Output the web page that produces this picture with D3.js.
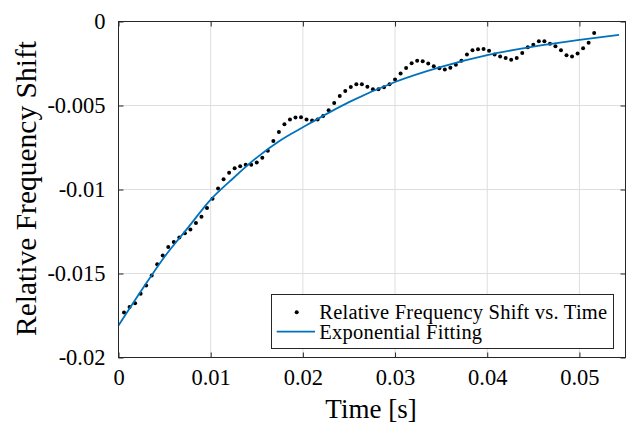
<!DOCTYPE html>
<html><head><meta charset="utf-8">
<script src="https://cdn.jsdelivr.net/npm/d3@7"></script>
<style>html,body{margin:0;padding:0;background:#fff;}svg{display:block;}</style>
</head><body>
<svg id="chart" width="630" height="426"></svg>
<script>
const timeS = [0.0006,0.0012,0.0018,0.0024,0.0030,0.0036,0.0042,0.0048,0.0054,0.0060,
0.0066,0.0072,0.0078,0.0084,0.0090,0.0096,0.0102,0.0108,0.0114,0.0120,
0.0126,0.0132,0.0138,0.0144,0.0150,0.0156,0.0162,0.0168,0.0174,0.0180,
0.0186,0.0192,0.0198,0.0204,0.0210,0.0216,0.0222,0.0228,0.0234,0.0240,
0.0246,0.0252,0.0258,0.0264,0.0270,0.0276,0.0282,0.0288,0.0294,0.0300,
0.0306,0.0312,0.0318,0.0324,0.0330,0.0336,0.0342,0.0348,0.0354,0.0360,
0.0366,0.0372,0.0378,0.0384,0.0390,0.0396,0.0402,0.0408,0.0414,0.0420,
0.0426,0.0432,0.0438,0.0444,0.0450,0.0456,0.0462,0.0468,0.0474,0.0480,
0.0486,0.0492,0.0498,0.0504,0.0510,0.0516];
const freqShift = [-0.01732,-0.01700,-0.01677,-0.01620,-0.01571,-0.01512,-0.01445,-0.01393,-0.01342,-0.01312,
-0.01286,-0.01260,-0.01238,-0.01200,-0.01162,-0.01110,-0.01055,-0.00994,-0.00939,-0.00901,
-0.00873,-0.00861,-0.00853,-0.00853,-0.00839,-0.00811,-0.00769,-0.00712,-0.00658,-0.00612,
-0.00584,-0.00571,-0.00570,-0.00583,-0.00590,-0.00584,-0.00562,-0.00529,-0.00485,-0.00444,
-0.00413,-0.00390,-0.00374,-0.00374,-0.00388,-0.00403,-0.00404,-0.00392,-0.00374,-0.00345,
-0.00310,-0.00277,-0.00249,-0.00234,-0.00237,-0.00250,-0.00267,-0.00278,-0.00285,-0.00275,
-0.00258,-0.00233,-0.00196,-0.00171,-0.00165,-0.00163,-0.00174,-0.00196,-0.00208,-0.00218,
-0.00227,-0.00217,-0.00187,-0.00153,-0.00139,-0.00117,-0.00117,-0.00133,-0.00147,-0.00171,
-0.00201,-0.00209,-0.00191,-0.00159,-0.00126,-0.00068];
const fitTime = [0,0.0025,0.005,0.0075,0.01,0.0125,0.015,0.0175,0.02,0.025,0.03,0.035,0.04,0.045,0.05,0.0543];
const fitValue = [-0.0181,-0.0160,-0.0140,-0.0123,-0.0106,-0.0093,-0.0081,-0.0071,-0.0063,-0.0048,-0.0036,-0.0027,-0.0020,-0.0015,-0.0011,-0.0008];
const xTicks = [0,0.01,0.02,0.03,0.04,0.05];
const xTickLabels = ["0","0.01","0.02","0.03","0.04","0.05"];
const yTicks = [0,-0.005,-0.01,-0.015,-0.02];
const yTickLabels = ["0","-0.005","-0.01","-0.015","-0.02"];
const legendLabels = ["Relative Frequency Shift vs. Time","Exponential Fitting"];
const xLabel = "Time [s]";
const yLabel = "Relative Frequency Shift";

const L = 118.5, R = 625.5, T = 21.5, B = 357.5;
const svg = d3.select("#chart");
const FONT = "'Liberation Serif', 'Times New Roman', serif";
const axisColor = "#262626";
const x = d3.scaleLinear().domain([0, 0.055]).range([L, R]);
const y = d3.scaleLinear().domain([-0.02, 0]).range([B, T]);

// grid
const grid = svg.append("g");
grid.selectAll("line.gx").data(xTicks).join("line")
  .attr("x1", d => x(d)).attr("x2", d => x(d)).attr("y1", T).attr("y2", B)
  .attr("stroke", "#dedede").attr("stroke-width", 1);
grid.selectAll("line.gy").data(yTicks).join("line")
  .attr("x1", L).attr("x2", R).attr("y1", d => y(d)).attr("y2", d => y(d))
  .attr("stroke", "#dedede").attr("stroke-width", 1);

// data
const pts = timeS.map((t, i) => ({t, v: freqShift[i]}));
svg.append("g").selectAll("circle").data(pts).join("circle")
  .attr("cx", d => x(d.t)).attr("cy", d => y(d.v)).attr("r", 2).attr("fill", "#000");

const fit = fitTime.map((t, i) => ({t, v: fitValue[i]}));
svg.append("path").datum(fit)
  .attr("d", d3.line().x(d => x(d.t)).y(d => y(d.v)).curve(d3.curveMonotoneX))
  .attr("fill", "none").attr("stroke", "#0072BD").attr("stroke-width", 1.8);

// axes
function styleAxis(g) {
  g.attr("font-family", FONT);
  g.select(".domain").remove();
  g.selectAll(".tick line").attr("stroke", axisColor);
  g.selectAll(".tick text").attr("fill", "#000").attr("font-family", FONT).attr("font-size", 22.5);
}
svg.append("g").attr("transform", `translate(0,${B})`)
  .call(d3.axisBottom(x).tickValues(xTicks).tickFormat((d, i) => xTickLabels[i]).tickSizeInner(-5).tickSizeOuter(0).tickPadding(12))
  .call(styleAxis);
svg.append("g").attr("transform", `translate(0,${T})`)
  .call(d3.axisTop(x).tickValues(xTicks).tickFormat("").tickSizeInner(-5).tickSizeOuter(0))
  .call(styleAxis);
svg.append("g").attr("transform", `translate(${L},0)`)
  .call(d3.axisLeft(y).tickValues(yTicks).tickFormat((d, i) => yTickLabels[i]).tickSizeInner(-5).tickSizeOuter(0).tickPadding(13))
  .call(styleAxis);
svg.append("g").attr("transform", `translate(${R},0)`)
  .call(d3.axisRight(y).tickValues(yTicks).tickFormat("").tickSizeInner(-5).tickSizeOuter(0))
  .call(styleAxis);

svg.append("rect").attr("x", L).attr("y", T).attr("width", R - L).attr("height", B - T)
  .attr("fill", "none").attr("stroke", axisColor).attr("stroke-width", 1);

// labels
svg.append("text").attr("x", (L + R) / 2 - 1).attr("y", 418).attr("text-anchor", "middle")
  .attr("font-family", FONT).attr("font-size", 27).attr("fill", "#000").text(xLabel);
svg.append("text").attr("transform", `translate(36,${(T + B) / 2 - 1}) rotate(-90)`).attr("text-anchor", "middle")
  .attr("font-family", FONT).attr("font-size", 29.5).attr("fill", "#000").text(yLabel);

// legend
const lg = svg.append("g");
lg.append("rect").attr("x", 271.5).attr("y", 294.5).attr("width", 342).attr("height", 54)
  .attr("fill", "#fff").attr("stroke", axisColor).attr("stroke-width", 1);
lg.append("circle").attr("cx", 296.7).attr("cy", 312.3).attr("r", 2).attr("fill", "#000");
lg.append("line").attr("x1", 276.7).attr("x2", 315).attr("y1", 331.7).attr("y2", 331.7)
  .attr("stroke", "#0072BD").attr("stroke-width", 1.8);
lg.selectAll("text").data(legendLabels).join("text")
  .attr("x", 319.3).attr("y", (d, i) => 318.5 + i * 20)
  .attr("font-family", FONT).attr("font-size", 20.5).attr("letter-spacing", 0.22)
  .attr("fill", "#000").text(d => d);
</script>
</body></html>
